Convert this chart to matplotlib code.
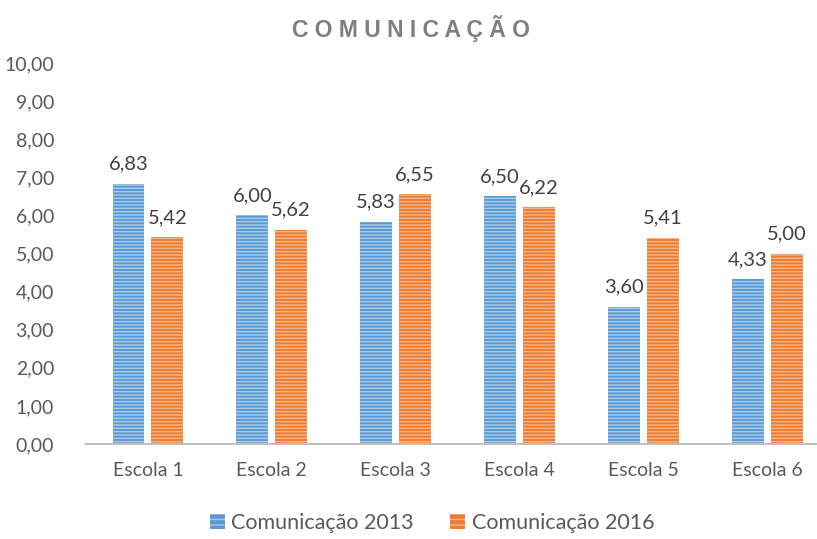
import matplotlib
matplotlib.use("Agg")
import matplotlib.pyplot as plt
import numpy as np
from matplotlib.patches import Patch

categories = ["Escola 1", "Escola 2", "Escola 3", "Escola 4", "Escola 5", "Escola 6"]
vals_2013 = [6.83, 6.00, 5.83, 6.50, 3.60, 4.33]
vals_2016 = [5.42, 5.62, 6.55, 6.22, 5.41, 5.00]
series_names = ["Comunicação 2013", "Comunicação 2016"]
yticks = [0, 1, 2, 3, 4, 5, 6, 7, 8, 9, 10]

plt.rcParams['font.family'] = ['Lato', 'DejaVu Sans']
plt.rcParams['hatch.linewidth'] = 1.0

W, H = 817, 539
fig = plt.figure(figsize=(W/100, H/100), dpi=100)
ax = fig.add_axes([86/W, (H-444)/H, (W-86)/W, 381/H])

x = np.arange(len(categories))
bw = 0.258
off = 0.157
blue = "#5B9BD5"
orange = "#ED7D31"

b1 = ax.bar(x - off, vals_2013, bw, color=blue, edgecolor="#A9CBEB", linewidth=0, hatch="-----")
b2 = ax.bar(x + off, vals_2016, bw, color=orange, edgecolor="#F6B48A", linewidth=0, hatch="-----")

for bars, vals in ((b1, vals_2013), (b2, vals_2016)):
    for r, v in zip(bars, vals):
        ax.annotate(f"{v:.2f}".replace(".", ","), (r.get_x() + r.get_width()/2, v),
                    xytext=(0, 8), textcoords="offset points", ha="center", va="bottom",
                    fontsize=14.5, color="#404040")

ax.set_xlim(-0.5, 5.403)
ax.set_ylim(0, 10)
ax.set_yticks(yticks)
ax.set_yticklabels([f"{t:.2f}".replace(".", ",") for t in yticks])
ax.set_xticks(x)
ax.set_xticklabels(categories)
ax.tick_params(axis='both', length=0, labelsize=14, colors="#595959")
ax.tick_params(axis='y', pad=23)
ax.tick_params(axis='x', pad=13)
for s in ["top", "right", "left"]:
    ax.spines[s].set_visible(False)
ax.spines["bottom"].set_color("#BFBFBF")
ax.spines["bottom"].set_linewidth(1.5)

fig.text(411/W, 1 - 29/H, "C O M U N I C A Ç Ã O", ha="center", va="center",
         fontsize=16.5, fontweight="bold", color="#7F7F7F", family=["Liberation Sans", "DejaVu Sans"])

handles = [Patch(facecolor=blue, edgecolor="#A9CBEB", hatch="---", linewidth=0),
           Patch(facecolor=orange, edgecolor="#F6B48A", hatch="---", linewidth=0)]
fig.legend(handles, series_names, loc="center", bbox_to_anchor=(432/W, 1 - 523/H), ncol=2,
           frameon=False, fontsize=15.5, labelcolor="#595959", handlelength=0.7, handleheight=0.7,
           handletextpad=0.3, columnspacing=1.7)

fig.savefig("out.png", dpi=100)
